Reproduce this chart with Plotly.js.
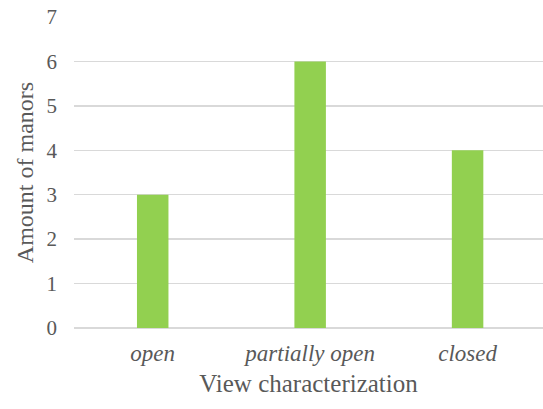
<!DOCTYPE html>
<html><head><meta charset="utf-8">
<script src="https://cdn.plot.ly/plotly-3.0.1.min.js"></script>
<style>body{margin:0;padding:0;background:#fff}#chart{width:543px;height:409px}#chart text{font-family:'Liberation Serif',serif !important}</style>
</head><body><div id="chart"></div>
<script>
const categories = ["open", "partially open", "closed"];
const amounts = [3, 6, 4];
const yTicks = [0, 1, 2, 3, 4, 5, 6, 7];

const FAM = "Liberation Serif";

const trace = {
  type: "bar",
  x: categories,
  y: amounts,
  marker: {color: "#92D050"},
  hoverinfo: "skip"
};

const layout = {
  width: 543, height: 409,
  margin: {l: 74, r: 0, t: 17, b: 81},
  paper_bgcolor: "#fff", plot_bgcolor: "#fff",
  bargap: 0.8,
  showlegend: false,
  font: {family: FAM, color: "#595959"},
  xaxis: {
    range: [-0.5, 2.479],
    tickfont: {family: FAM, size: 23, style: "italic", color: "#595959"},
    ticklabelstandoff: 9,
    showgrid: false, zeroline: false, showline: false, ticks: "",
    title: {text: "View characterization", font: {family: FAM, size: 25, color: "#595959"}, standoff: 9}
  },
  yaxis: {
    range: [0, 7],
    tickvals: yTicks,
    ticktext: yTicks.map(String),
    tickfont: {family: FAM, size: 21, color: "#595959"},
    ticklabelstandoff: 16,
    showgrid: true, gridcolor: "#d9d9d9", gridwidth: 1.5,
    zeroline: true, zerolinecolor: "#d9d9d9", zerolinewidth: 1.5,
    showline: false, ticks: "",
    title: {text: "Amount of manors", font: {family: FAM, size: 24, color: "#595959"}, standoff: 6}
  }
};

Plotly.newPlot("chart", [trace], layout, {displayModeBar: false, staticPlot: true});
</script></body></html>
